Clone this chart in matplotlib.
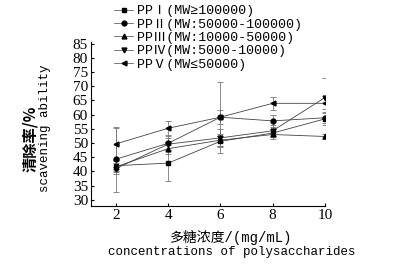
import numpy as np
import matplotlib
matplotlib.use("Agg")
import matplotlib.pyplot as plt
from matplotlib.lines import Line2D

# concentration (mg/mL)
conc = [2, 4, 6, 8, 10]

# scavenging ability (%) for each fraction
pp1 = [42.0, 42.9, 50.6, 53.5, 58.5]
pp2 = [44.3, 49.9, 59.1, 57.8, 58.9]
pp3 = [41.6, 48.0, 51.0, 53.0, 52.3]
pp4 = [41.0, 49.6, 51.8, 54.3, 66.0]
pp5 = [49.7, 55.2, 59.1, 64.0, 64.0]

# error bars
pp1_err = [2.0, 6.4, 2.0, 1.5, 2.0]
pp2_err = [11.5, 2.5, 12.5, 2.0, 2.0]
pp3_err = [2.0, 2.0, 2.0, 1.5, 1.0]
pp4_err = [2.0, 2.0, 3.0, 2.0, 7.0]
pp5_err = [5.5, 2.4, 2.5, 2.4, 2.0]

labels = ["PP\u2160(MW\u2265100000)",
          "PP\u2161(MW:50000-100000)",
          "PP\u2162(MW:10000-50000)",
          "PP\u2163(MW:5000-10000)",
          "PP\u2164(MW\u226450000)"]
markers = ["s", "o", "^", "v", "<"]

serif = ["Liberation Serif", "DejaVu Sans", "Noto Sans CJK SC"]
mono_cjk = ["Liberation Mono", "Noto Sans CJK SC"]

fig = plt.figure(figsize=(4.04, 2.65), dpi=100)
ax = fig.add_axes([0.225, 0.223, 0.579, 0.617])

series = [pp1, pp2, pp3, pp4, pp5]
errs = [pp1_err, pp2_err, pp3_err, pp4_err, pp5_err]
handles = []
for y, e, m in zip(series, errs, markers):
    ax.errorbar(conc, y, yerr=e, marker=m, markersize=3.5, color="#444444",
                mfc="black", mec="black", lw=0.6, elinewidth=0.6,
                ecolor="#777777", capsize=2, capthick=0.6)
    handles.append(Line2D([], [], marker=m, markersize=3.5, color="#666666",
                          mfc="black", mec="black", lw=0.6))

ax.set_xlim(1.04, 10)
ax.set_ylim(27.8, 85.5)
ax.set_xticks([2, 4, 6, 8, 10])
ax.set_yticks(np.arange(30, 86, 5))
ax.spines["top"].set_visible(False)
ax.spines["right"].set_visible(False)
ax.tick_params(direction="in", length=2.5, width=0.8, labelsize=11, pad=2)
for t in ax.get_xticklabels() + ax.get_yticklabels():
    t.set_family(serif)

fig.legend(handles, labels, loc="upper left", bbox_to_anchor=(0.26, 1.015),
           frameon=False, prop={"family": mono_cjk, "size": 9.5},
           handlelength=1.4, handletextpad=0.3, labelspacing=0.08, borderpad=0.2)

fig.text(0.074, 0.475, "清除率/%", rotation=90, ha="center", va="center",
         family=["Noto Sans CJK SC", "DejaVu Sans"], fontsize=11, fontweight="bold")
fig.text(0.112, 0.515, "scavening ability", rotation=90, ha="center", va="center",
         family="Liberation Mono", fontsize=9)
fig.text(0.572, 0.105, "多糖浓度/(mg/mL)", ha="center", va="center",
         family=mono_cjk, fontsize=10)
fig.text(0.574, 0.048, "concentrations of polysaccharides", ha="center", va="center",
         family="Liberation Mono", fontsize=9)

fig.savefig("out.png", dpi=100)
